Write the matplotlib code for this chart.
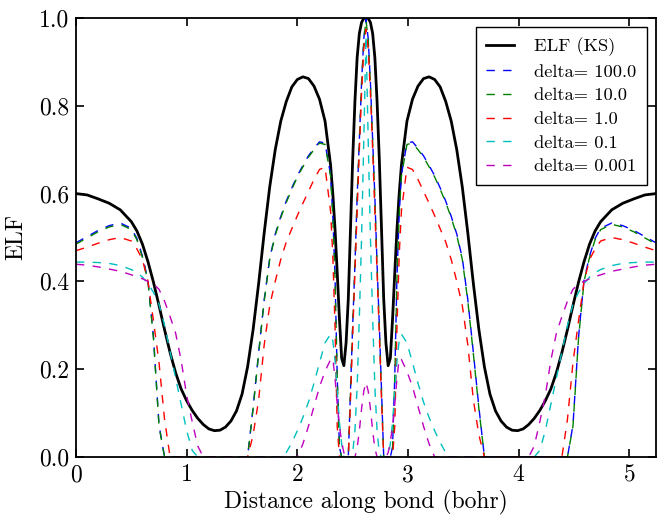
import matplotlib
matplotlib.use("Agg")
import matplotlib.pyplot as plt

plt.rcParams['font.family'] = 'serif'
plt.rcParams['font.serif'] = ['cmr10']
plt.rcParams['mathtext.fontset'] = 'cm'
plt.rcParams['axes.unicode_minus'] = False

# ---------------- data ----------------
x = [0.00, 0.10, 0.20, 0.30, 0.40, 0.50, 0.55, 0.60, 0.65, 0.70, 0.75, 0.80, 0.85, 0.90, 0.95,
     1.00, 1.05, 1.10, 1.15, 1.20, 1.25, 1.30, 1.35, 1.40, 1.45, 1.50, 1.55, 1.60, 1.65, 1.70,
     1.75, 1.80, 1.85, 1.90, 1.95, 2.00, 2.05, 2.10, 2.15, 2.20, 2.25, 2.30, 2.32, 2.34, 2.36,
     2.38, 2.40, 2.42, 2.44, 2.46, 2.48, 2.50, 2.52, 2.54, 2.56, 2.58, 2.60, 2.62,
     2.64, 2.66, 2.68, 2.70, 2.72, 2.74, 2.76, 2.78, 2.80, 2.82, 2.84, 2.86, 2.88, 2.90, 2.92,
     2.94, 2.99, 3.04, 3.09, 3.14, 3.19, 3.24, 3.29, 3.34, 3.39, 3.44, 3.49, 3.54, 3.59, 3.64,
     3.69, 3.74, 3.79, 3.84, 3.89, 3.94, 3.99, 4.04, 4.09, 4.14, 4.19, 4.24, 4.29, 4.34, 4.39,
     4.44, 4.49, 4.54, 4.59, 4.64, 4.69, 4.74, 4.84, 4.94, 5.04, 5.14, 5.24]

elf_ks = [0.600, 0.597, 0.588, 0.578, 0.563, 0.536, 0.515, 0.485, 0.445, 0.398, 0.345, 0.290,
          0.238, 0.192, 0.155, 0.128, 0.106, 0.088, 0.074, 0.064, 0.060, 0.061, 0.068, 0.082,
          0.105, 0.143, 0.205, 0.290, 0.395, 0.510, 0.615, 0.700, 0.765, 0.810, 0.843, 0.860,
          0.866, 0.862, 0.845, 0.815, 0.765, 0.665, 0.600, 0.520, 0.420, 0.315, 0.225, 0.208,
          0.260, 0.360, 0.520, 0.680, 0.810, 0.910, 0.965, 0.990, 0.999, 1.000,
          0.999, 0.990, 0.965, 0.910, 0.810, 0.680, 0.520, 0.360, 0.260, 0.208, 0.225, 0.315,
          0.420, 0.520, 0.600, 0.665, 0.765, 0.815, 0.845, 0.862, 0.866, 0.860, 0.843, 0.810,
          0.765, 0.700, 0.615, 0.510, 0.395, 0.290, 0.205, 0.143, 0.105, 0.082, 0.068, 0.061,
          0.060, 0.064, 0.074, 0.088, 0.106, 0.128, 0.155, 0.192, 0.238, 0.290, 0.345, 0.398,
          0.445, 0.485, 0.515, 0.536, 0.563, 0.578, 0.588, 0.597, 0.600]

elf_d100 = [0.488, 0.502, 0.516, 0.527, 0.533, 0.521, 0.498, 0.458, 0.403, 0.273, 0.073,
            0, 0, 0, 0, 0, 0, 0, 0, 0, 0, 0, 0, 0, 0, 0, 0,
            0.113, 0.238, 0.358, 0.453, 0.508, 0.548, 0.583, 0.613, 0.641, 0.664, 0.686, 0.703,
            0.718, 0.715, 0.643, 0.553, 0.413, 0.183, 0.023,
            0, 0, 0, 0,
            0.153, 0.303, 0.438, 0.593, 0.723, 0.853, 0.953, 0.998,
            0.953, 0.853, 0.723, 0.593, 0.438, 0.303, 0.153,
            0, 0, 0, 0,
            0.023, 0.183, 0.413, 0.553, 0.643, 0.715, 0.718, 0.703, 0.686, 0.664, 0.641, 0.613,
            0.583, 0.548, 0.508, 0.453, 0.358, 0.238, 0.113,
            0, 0, 0, 0, 0, 0, 0, 0, 0, 0, 0, 0, 0, 0, 0, 0,
            0.073, 0.273, 0.403, 0.458, 0.498, 0.521, 0.533, 0.527, 0.516, 0.502, 0.488]

elf_d10 = [0.485, 0.499, 0.513, 0.524, 0.530, 0.518, 0.495, 0.455, 0.400, 0.270, 0.070,
           0, 0, 0, 0, 0, 0, 0, 0, 0, 0, 0, 0, 0, 0, 0, 0,
           0.110, 0.235, 0.355, 0.450, 0.505, 0.545, 0.580, 0.610, 0.638, 0.661, 0.683, 0.700,
           0.715, 0.712, 0.640, 0.550, 0.410, 0.180, 0.020,
           0, 0, 0, 0,
           0.150, 0.300, 0.435, 0.590, 0.720, 0.850, 0.950, 0.995,
           0.950, 0.850, 0.720, 0.590, 0.435, 0.300, 0.150,
           0, 0, 0, 0,
           0.020, 0.180, 0.410, 0.550, 0.640, 0.712, 0.715, 0.700, 0.683, 0.661, 0.638, 0.610,
           0.580, 0.545, 0.505, 0.450, 0.355, 0.235, 0.110,
           0, 0, 0, 0, 0, 0, 0, 0, 0, 0, 0, 0, 0, 0, 0, 0,
           0.070, 0.270, 0.400, 0.455, 0.495, 0.518, 0.530, 0.524, 0.513, 0.499, 0.485]

elf_d1 = [0.470, 0.478, 0.487, 0.495, 0.500, 0.492, 0.474, 0.450, 0.400, 0.310, 0.215, 0.086,
          0, 0, 0, 0, 0, 0, 0, 0, 0, 0, 0, 0, 0, 0, 0,
          0.050, 0.130, 0.255, 0.345, 0.400, 0.450, 0.490, 0.520, 0.550, 0.578, 0.605, 0.632,
          0.655, 0.660, 0.560, 0.460, 0.300, 0.070,
          0, 0, 0, 0, 0,
          0.130, 0.280, 0.420, 0.560, 0.700, 0.830, 0.930, 0.975,
          0.930, 0.830, 0.700, 0.560, 0.420, 0.280, 0.130,
          0, 0, 0, 0, 0,
          0.070, 0.300, 0.460, 0.560, 0.660, 0.655, 0.632, 0.605, 0.578, 0.550, 0.520, 0.490,
          0.450, 0.400, 0.345, 0.255, 0.130, 0.050,
          0, 0, 0, 0, 0, 0, 0, 0, 0, 0, 0, 0, 0, 0, 0,
          0.086, 0.215, 0.310, 0.400, 0.450, 0.474, 0.492, 0.500, 0.495, 0.487, 0.478, 0.470]

elf_d01 = [0.444, 0.444, 0.443, 0.441, 0.436, 0.427, 0.420, 0.410, 0.395, 0.375, 0.348, 0.300,
           0.240, 0.180, 0.120, 0.060, 0.015,
           0, 0, 0, 0, 0, 0, 0, 0, 0, 0, 0, 0, 0, 0, 0, 0,
           0.010, 0.033, 0.060, 0.090, 0.125, 0.168, 0.215, 0.260, 0.280, 0.265, 0.220, 0.150,
           0.080, 0.030,
           0, 0, 0, 0,
           0.010, 0.060, 0.160, 0.320, 0.500, 0.720, 0.960,
           0.720, 0.500, 0.320, 0.160, 0.060, 0.010,
           0, 0, 0, 0,
           0.030, 0.080, 0.150, 0.220, 0.265, 0.280, 0.260, 0.215, 0.168, 0.125, 0.090, 0.060,
           0.033, 0.010,
           0, 0, 0, 0, 0, 0, 0, 0, 0, 0, 0, 0, 0, 0, 0, 0,
           0.015, 0.060, 0.120, 0.180, 0.240, 0.300, 0.348, 0.375, 0.395, 0.410, 0.420, 0.427,
           0.436, 0.441, 0.443, 0.444, 0.444]

elf_d0001 = [0.439, 0.437, 0.433, 0.428, 0.423, 0.415, 0.411, 0.406, 0.400, 0.394, 0.382, 0.355,
             0.320, 0.282, 0.220, 0.140, 0.080, 0.025,
             0, 0, 0, 0, 0, 0, 0, 0, 0, 0, 0, 0, 0, 0, 0, 0, 0, 0,
             0.030, 0.070, 0.115, 0.160, 0.195, 0.222, 0.225, 0.180, 0.120, 0.070, 0.035, 0.010,
             0, 0, 0, 0, 0,
             0.020, 0.060, 0.110, 0.150, 0.170,
             0.150, 0.110, 0.060, 0.020,
             0, 0, 0, 0, 0,
             0.010, 0.035, 0.070, 0.120, 0.180, 0.225, 0.222, 0.195, 0.160, 0.115, 0.070, 0.030,
             0, 0, 0, 0, 0, 0, 0, 0, 0, 0, 0, 0, 0, 0, 0, 0, 0, 0,
             0.025, 0.080, 0.140, 0.220, 0.282, 0.320, 0.355, 0.382, 0.394, 0.400, 0.406, 0.411,
             0.415, 0.423, 0.428, 0.433, 0.437, 0.439]

labels = ['ELF (KS)', 'delta= 100.0', 'delta= 10.0', 'delta= 1.0', 'delta= 0.1', 'delta= 0.001']
xticks = [0, 1, 2, 3, 4, 5]
yticks = [0.0, 0.2, 0.4, 0.6, 0.8, 1.0]

series = [elf_ks, elf_d100, elf_d10, elf_d1, elf_d01, elf_d0001]
for s in series:
    assert len(s) == len(x), (len(s), len(x))

# ---------------- figure ----------------
fig = plt.figure(figsize=(6.57, 5.16), dpi=100, facecolor='white')
ax = fig.add_axes([76 / 657, (516 - 457) / 516, (656 - 76) / 657, (457 - 18) / 516])

ax.plot(x, elf_ks, color='k', lw=2.0, label=labels[0])
dashed_colors = [(0, 0, 1), (0, 0.5, 0), (1, 0, 0), (0, 0.75, 0.75), (0.75, 0, 0.75)]
for vals, col, lab in zip(series[1:], dashed_colors, labels[1:]):
    ax.plot(x, vals, color=col, lw=1.0, linestyle='--', dashes=(6, 6), label=lab)

ax.set_xlim(0, 5.24)
ax.set_ylim(0, 1.0)
ax.set_xticks(xticks)
ax.set_xticklabels([str(t) for t in xticks])
ax.set_yticks(yticks)
ax.set_yticklabels(['%.1f' % t for t in yticks])
ax.tick_params(direction='in', top=True, right=True, length=6, width=1.2,
               labelsize=17, pad=5)
for s in ax.spines.values():
    s.set_linewidth(1.3)

ax.set_xlabel('Distance along bond (bohr)', fontsize=17, labelpad=3)
ax.set_ylabel('ELF', fontsize=17, labelpad=8)

leg = ax.legend(loc='upper right', fontsize=13.3, handlelength=1.5, handletextpad=1.1,
                labelspacing=0.42, borderpad=0.55, borderaxespad=0.5, fancybox=False,
                framealpha=1.0, edgecolor='k')
leg.get_frame().set_linewidth(1.0)

fig.savefig('out.png', dpi=100, facecolor='white')
